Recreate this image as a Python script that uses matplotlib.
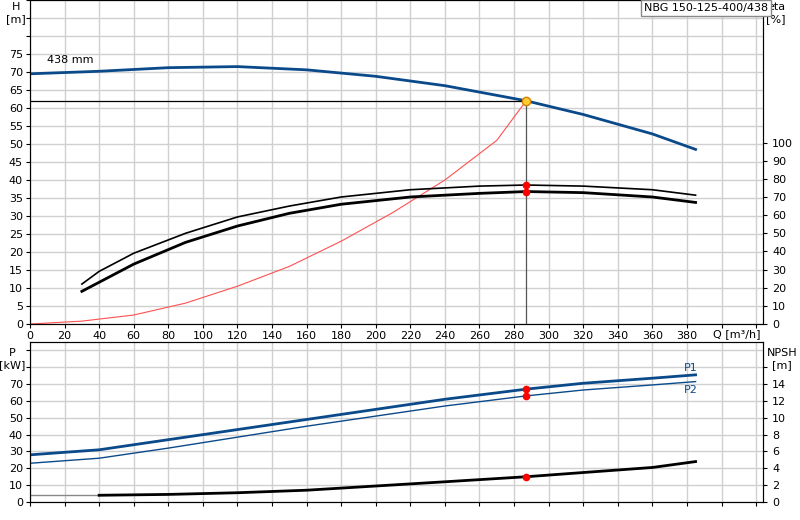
import matplotlib.pyplot as plt
import numpy as np

# pump curve H(Q)
q_h = [0, 40, 80, 120, 160, 200, 240, 287, 320, 360, 385]
h = [69.5, 70.2, 71.2, 71.5, 70.6, 68.8, 66.2, 62.0, 58.2, 52.8, 48.5]
# efficiency curves (in %)
q_eta_a = [30, 40, 60, 90, 120, 150, 180, 220, 260, 287, 320, 360, 385]
eta_a = [22, 29, 39, 50, 59, 65, 70, 74, 76, 76.6, 76, 74, 71]
q_eta_b = [30, 40, 60, 90, 120, 150, 180, 220, 260, 287, 320, 360, 385]
eta_b = [18, 23, 33, 45, 54, 61, 66, 70, 72, 73, 72.4, 70, 67]
# system curve
q_sys = [0, 30, 60, 90, 120, 150, 180, 210, 240, 270, 287]
h_sys = [0, 0.8, 2.5, 5.8, 10.5, 16, 23, 31, 40, 51, 62]
# power and NPSH
q_p = [0, 40, 80, 120, 160, 200, 240, 287, 320, 360, 385]
p1 = [28, 31, 37, 43, 49, 55, 61, 67, 70.5, 73.5, 75.5]
p2 = [23, 26, 32, 38.5, 45, 51, 57, 63, 66.5, 69.5, 71.5]
q_npsh = [40, 80, 120, 160, 200, 240, 287, 320, 360, 385]
npsh = [0.8, 0.9, 1.1, 1.4, 1.9, 2.4, 3.0, 3.5, 4.1, 4.8]

q_op, h_op = 287, 62.0
eta_scale = 50.4 / 100  # eta % -> H units

fig = plt.figure(figsize=(8, 5.2), dpi=100)
ax = fig.add_axes([30 / 800, 196 / 520, 733 / 800, 324 / 520])
axp = fig.add_axes([30 / 800, 18 / 520, 733 / 800, 160 / 520])

grid_c = "#d0d0d0"
for a in (ax, axp):
    a.set_xlim(0, 424)
    a.set_xticks(np.arange(0, 421, 20))
    a.grid(color=grid_c, lw=1)
    a.tick_params(labelsize=8, length=3, direction="out", pad=2)
    for s in a.spines.values():
        s.set_color("#333333")

ax.set_ylim(0, 90)
ax.set_yticks(np.arange(0, 91, 5))
ax.set_yticklabels([str(v) if v <= 75 else "" for v in range(0, 91, 5)])
ax.set_xticklabels([str(v) if v <= 380 else "" for v in range(0, 421, 20)])

ax2 = ax.twinx()
ax2.set_ylim(0, 90 / eta_scale)
ax2.set_yticks(np.arange(0, 101, 10))
ax2.tick_params(labelsize=8, length=3)

ax.plot(q_h, h, color="#0b4a8a", lw=2)
ax.plot(q_sys, h_sys, color="#ff5050", lw=0.8)
ax.plot(q_eta_a, [v * eta_scale for v in eta_a], color="black", lw=1.2)
ax.plot(q_eta_b, [v * eta_scale for v in eta_b], color="black", lw=2)
ax.plot([0, q_op], [h_op, h_op], color="black", lw=0.9)
ax.plot([q_op, q_op], [0, h_op], color="#555555", lw=0.9)
ax.plot(q_op, h_op, "o", ms=6, mfc="#ffcc33", mec="#d08000", zorder=5)
ax.plot([q_op, q_op], [76.6 * eta_scale, 73 * eta_scale], "o", ms=4.5, color="red", zorder=5)
ax.text(10, 72.5, "438 mm", fontsize=8)

fig.text(16 / 800, 1 - 2 / 520, "H\n[m]", fontsize=8, ha="center", va="top")
fig.text(776 / 800, 1 - 2 / 520, "eta\n[%]", fontsize=8, ha="center", va="top")
fig.text(737 / 800, 1 - 334 / 520, "Q [m³/h]", fontsize=8, ha="center", va="center")
fig.text(706 / 800, 1 - 8 / 520, "NBG 150-125-400/438", fontsize=8, ha="center", va="center",
         bbox=dict(facecolor="white", edgecolor="#888888", boxstyle="square,pad=0.3"))
fig.text(12 / 800, 1 - 348 / 520, "P\n[kW]", fontsize=8, ha="center", va="top")
fig.text(782 / 800, 1 - 348 / 520, "NPSH\n[m]", fontsize=8, ha="center", va="top")

axp.set_ylim(0, 95)
axp.set_yticks(np.arange(0, 91, 10))
axp.set_yticklabels([str(v) if v <= 70 else "" for v in range(0, 91, 10)])
axp.set_xticklabels([])
axp2 = axp.twinx()
axp2.set_ylim(0, 19)
axp2.set_yticks(np.arange(0, 17, 2))
axp2.set_yticklabels([str(v) if v <= 14 else "" for v in range(0, 17, 2)])
axp2.tick_params(labelsize=8, length=3)

axp.plot(q_p, p1, color="#0b4a8a", lw=2)
axp.plot(q_p, p2, color="#0b4a8a", lw=1)
axp.plot([0, 40], [4, 4], color="#888888", lw=1)
axp2.plot(q_npsh, npsh, color="black", lw=2)
axp.plot([q_op] * 2, [67, 63], "o", ms=4.5, color="red", zorder=5)
axp2.plot(q_op, 3.0, "o", ms=4.5, color="red", zorder=5)
axp.text(378, 78, "P1", fontsize=8, color="#0b4a8a")
axp.text(378, 65, "P2", fontsize=8, color="#0b4a8a")

fig.savefig("out.png", dpi=100)
